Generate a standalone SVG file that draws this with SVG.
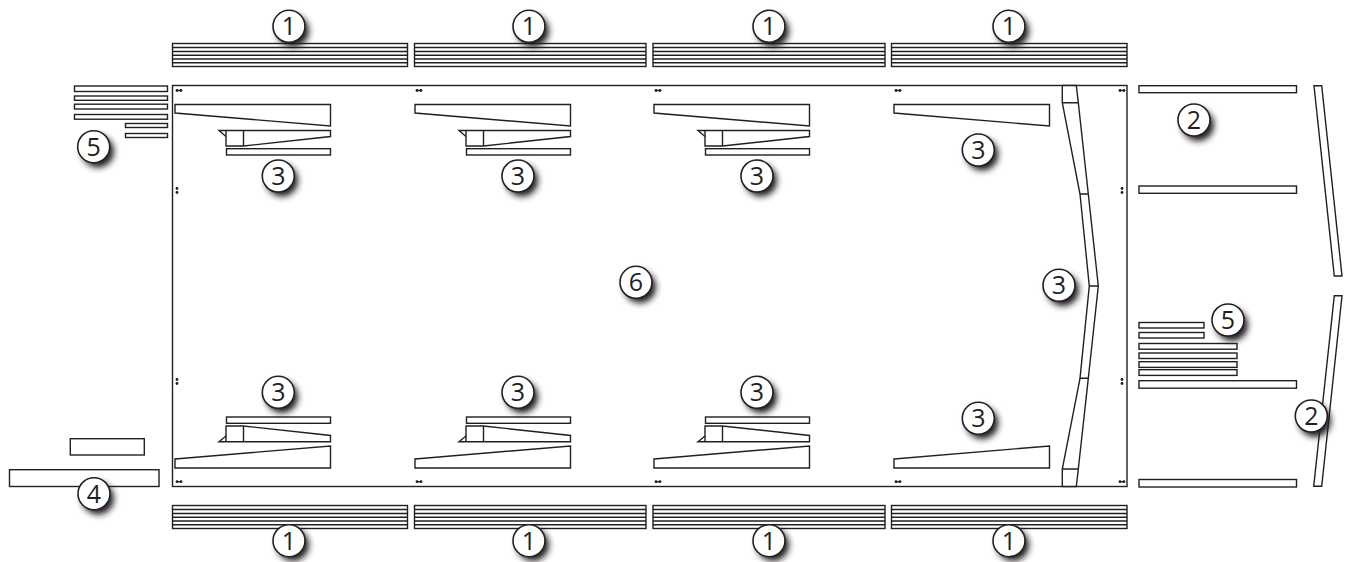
<svg xmlns="http://www.w3.org/2000/svg" width="1347" height="562" viewBox="0 0 1347 562">
<style>
.p{fill:#fff;stroke:#231f20;stroke-width:1.4}
.l{fill:none;stroke:#231f20;stroke-width:1.4}
.d{fill:#231f20;stroke:none}
.c{fill:#fff;stroke:#231f20;stroke-width:1.6}
.s{fill:#231f20;filter:url(#b)}
.t{font-family:"Open Sans","Noto Sans",sans-serif;font-size:25px;fill:#231f20;text-anchor:middle}
</style>
<defs>
<filter id="b" x="-60%" y="-60%" width="220%" height="220%"><feGaussianBlur stdDeviation="3"/></filter>
<g id="dh"><circle class="d" cx="0" cy="0" r="1.4"/><circle class="d" cx="4" cy="0" r="1.4"/><path class="l" d="M0 0H4"/></g>
<g id="dv"><circle class="d" cx="0" cy="0" r="1.4"/><circle class="d" cx="0" cy="4" r="1.4"/></g>
<g id="setT">
<polygon class="p" points="175,104.5 330.5,104.5 330.5,126 175,113"/>
<polygon class="p" points="219,130.5 330.5,130.5 330.5,136.5 243.5,146 226,146 226,136.5"/>
<path class="l" d="M226 130.5V136.5M243.5 130.5V146"/>
<rect class="p" x="226.5" y="148.7" width="104" height="6.3"/>
</g>
<g id="setB">
<rect class="p" x="226.5" y="417" width="104" height="6.3"/>
<polygon class="p" points="226,426 243.5,426 330.5,435.5 330.5,441.7 219,441.7 226,436"/>
<path class="l" d="M226 436V441.7M243.5 426V441.7"/>
<polygon class="p" points="175,459 330.5,446 330.5,468 175,468"/>
</g>
</defs>

<g id="panel-6">
<rect class="p" x="172.5" y="85.5" width="954.5" height="401"/>
<use href="#dh" x="177" y="90.5"/><use href="#dh" x="417" y="90.5"/><use href="#dh" x="656" y="90.5"/><use href="#dh" x="896" y="90.5"/><use href="#dh" x="1120" y="90.5"/>
<use href="#dh" x="177" y="481.7"/><use href="#dh" x="417" y="481.7"/><use href="#dh" x="656" y="481.7"/><use href="#dh" x="896" y="481.7"/><use href="#dh" x="1120" y="481.7"/>
<use href="#dv" x="177" y="188.5"/><use href="#dv" x="177" y="379.5"/><use href="#dv" x="1122" y="188.5"/><use href="#dv" x="1122" y="379.5"/>
</g>

<g id="strips-1">
<rect class="p" x="172.5" y="43.5" width="235" height="23"/>
<rect class="p" x="414.5" y="43.5" width="231.5" height="23"/>
<rect class="p" x="653" y="43.5" width="232" height="23"/>
<rect class="p" x="891.5" y="43.5" width="235.5" height="23"/>
<rect class="p" x="172.5" y="505.5" width="235" height="23"/>
<rect class="p" x="414.5" y="505.5" width="231.5" height="23"/>
<rect class="p" x="653" y="505.5" width="232" height="23"/>
<rect class="p" x="891.5" y="505.5" width="235.5" height="23"/>
<path class="l" d="M172.5 47.5H407.5M172.5 51.5H407.5M172.5 55.2H407.5M172.5 59H407.5M172.5 62.8H407.5M414.5 47.5H646M414.5 51.5H646M414.5 55.2H646M414.5 59H646M414.5 62.8H646M653 47.5H885M653 51.5H885M653 55.2H885M653 59H885M653 62.8H885M891.5 47.5H1127M891.5 51.5H1127M891.5 55.2H1127M891.5 59H1127M891.5 62.8H1127"/>
<path class="l" d="M172.5 509.5H407.5M172.5 513.5H407.5M172.5 517.2H407.5M172.5 521H407.5M172.5 524.8H407.5M414.5 509.5H646M414.5 513.5H646M414.5 517.2H646M414.5 521H646M414.5 524.8H646M653 509.5H885M653 513.5H885M653 517.2H885M653 521H885M653 524.8H885M891.5 509.5H1127M891.5 513.5H1127M891.5 517.2H1127M891.5 521H1127M891.5 524.8H1127"/>
</g>

<g id="sets-3">
<use href="#setT"/><use href="#setT" x="240"/><use href="#setT" x="479"/>
<use href="#setB"/><use href="#setB" x="240"/><use href="#setB" x="479"/>
<polygon class="p" points="894,104.5 1049.5,104.5 1049.5,126 894,113"/>
<polygon class="p" points="894,459 1049.5,446 1049.5,468 894,468"/>
</g>

<g id="spine-3">
<polygon class="p" points="1062.3,85.5 1076.3,85.5 1078.3,102.7 1088.3,194 1098.3,286 1088.3,378.3 1078.3,469 1076.3,486.5 1062.3,486.5 1062.3,469 1080,378.3 1089.3,286 1080,194 1062.3,102.7"/>
<path class="l" d="M1062.3 102.7H1078.3M1080 194H1088.3M1089.3 286H1098.3M1080 378.3H1088.3M1062.3 469H1078.3"/>
</g>

<g id="bars-2">
<rect class="p" x="1139" y="85.7" width="157.5" height="7"/>
<rect class="p" x="1139" y="186" width="157.5" height="7.3"/>
<rect class="p" x="1139" y="380.7" width="157.5" height="7.5"/>
<rect class="p" x="1139" y="479.5" width="157.5" height="7.5"/>
<polygon class="p" points="1314,85.7 1321.7,85.7 1342,276 1334.3,276"/>
<polygon class="p" points="1334.3,295.7 1342,295.7 1321.7,486.3 1313.7,486.3"/>
</g>

<g id="strips-5-left">
<rect class="p" x="74.5" y="86" width="93" height="5.5"/>
<rect class="p" x="74.5" y="96" width="93" height="4.3"/>
<rect class="p" x="74.5" y="104.2" width="93" height="4.8"/>
<rect class="p" x="74.5" y="114.5" width="93" height="4.7"/>
<rect class="p" x="125.5" y="123.5" width="42" height="4"/>
<rect class="p" x="125.5" y="133.5" width="42" height="4"/>
</g>

<g id="strips-5-right">
<rect class="p" x="1139" y="322.5" width="65" height="5.5"/>
<rect class="p" x="1139" y="332.5" width="65" height="5.5"/>
<rect class="p" x="1139" y="343.5" width="98" height="5.7"/>
<rect class="p" x="1139" y="353" width="98" height="5.5"/>
<rect class="p" x="1139" y="361.7" width="98" height="5.7"/>
<rect class="p" x="1139" y="369.7" width="98" height="5.7"/>
</g>

<g id="boards-4">
<rect class="p" x="70.3" y="438.7" width="74" height="16.3"/>
<rect class="p" x="9.5" y="469.7" width="149.5" height="16.8"/>
</g>

<g id="badges">
<g id="b1a"><circle class="s" cx="293" cy="31" r="16"/><circle class="c" cx="289" cy="26.3" r="16"/><text class="t" x="289" y="35.3">1</text></g>
<g id="b1b"><circle class="s" cx="533" cy="31" r="16"/><circle class="c" cx="529" cy="26.3" r="16"/><text class="t" x="529" y="35.3">1</text></g>
<g id="b1c"><circle class="s" cx="773" cy="31" r="16"/><circle class="c" cx="769" cy="26.3" r="16"/><text class="t" x="769" y="35.3">1</text></g>
<g id="b1d"><circle class="s" cx="1013" cy="31" r="16"/><circle class="c" cx="1009" cy="26.3" r="16"/><text class="t" x="1009" y="35.3">1</text></g>
<g id="b1e"><circle class="s" cx="293" cy="545" r="16"/><circle class="c" cx="289" cy="540.7" r="16"/><text class="t" x="289" y="549.7">1</text></g>
<g id="b1f"><circle class="s" cx="533" cy="545" r="16"/><circle class="c" cx="529" cy="540.7" r="16"/><text class="t" x="529" y="549.7">1</text></g>
<g id="b1g"><circle class="s" cx="773" cy="545" r="16"/><circle class="c" cx="769" cy="540.7" r="16"/><text class="t" x="769" y="549.7">1</text></g>
<g id="b1h"><circle class="s" cx="1013" cy="545" r="16"/><circle class="c" cx="1009" cy="540.7" r="16"/><text class="t" x="1009" y="549.7">1</text></g>
<g id="b3a"><circle class="s" cx="282" cy="180.5" r="16"/><circle class="c" cx="278.3" cy="176" r="16"/><text class="t" x="278.3" y="185">3</text></g>
<g id="b3b"><circle class="s" cx="522" cy="180.5" r="16"/><circle class="c" cx="518" cy="176" r="16"/><text class="t" x="518" y="185">3</text></g>
<g id="b3c"><circle class="s" cx="761" cy="180.5" r="16"/><circle class="c" cx="757" cy="176" r="16"/><text class="t" x="757" y="185">3</text></g>
<g id="b3d"><circle class="s" cx="982.3" cy="154.5" r="16"/><circle class="c" cx="978.3" cy="150" r="16"/><text class="t" x="978.3" y="159">3</text></g>
<g id="b3e"><circle class="s" cx="282" cy="397" r="16"/><circle class="c" cx="278.3" cy="392.3" r="16"/><text class="t" x="278.3" y="401.3">3</text></g>
<g id="b3f"><circle class="s" cx="522" cy="397" r="16"/><circle class="c" cx="518" cy="392.3" r="16"/><text class="t" x="518" y="401.3">3</text></g>
<g id="b3g"><circle class="s" cx="761" cy="397" r="16"/><circle class="c" cx="757" cy="392.3" r="16"/><text class="t" x="757" y="401.3">3</text></g>
<g id="b3h"><circle class="s" cx="982.3" cy="423" r="16"/><circle class="c" cx="978.3" cy="418.3" r="16"/><text class="t" x="978.3" y="427.3">3</text></g>
<g id="b3i"><circle class="s" cx="1063" cy="290" r="16"/><circle class="c" cx="1059" cy="285.3" r="16"/><text class="t" x="1059" y="294.3">3</text></g>
<g id="b6"><circle class="s" cx="640" cy="287" r="16"/><circle class="c" cx="636" cy="282.3" r="16"/><text class="t" x="636" y="291.3">6</text></g>
<g id="b2a"><circle class="s" cx="1198" cy="125" r="16"/><circle class="c" cx="1194" cy="120" r="16"/><text class="t" x="1194" y="129">2</text></g>
<g id="b2b"><circle class="s" cx="1315" cy="421" r="16"/><circle class="c" cx="1311.3" cy="416" r="16"/><text class="t" x="1311.3" y="425">2</text></g>
<g id="b5a"><circle class="s" cx="98" cy="151.5" r="16"/><circle class="c" cx="93.7" cy="146.7" r="16"/><text class="t" x="93.7" y="155.7">5</text></g>
<g id="b5b"><circle class="s" cx="1232" cy="325" r="16"/><circle class="c" cx="1228" cy="320" r="16"/><text class="t" x="1228" y="329">5</text></g>
<g id="b4"><circle class="s" cx="98" cy="498.5" r="16"/><circle class="c" cx="94" cy="493.7" r="16"/><text class="t" x="94" y="502.7">4</text></g>
</g>
</svg>
